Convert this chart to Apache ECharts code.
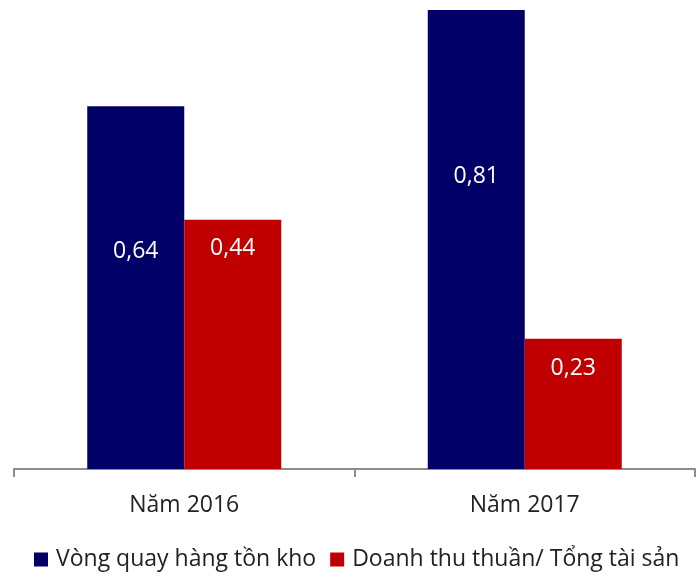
<!DOCTYPE html>
<html>
<head>
<meta charset="utf-8">
<script src="https://cdn.jsdelivr.net/npm/echarts@6/dist/echarts.min.js"></script>
<style>
  html, body { margin: 0; padding: 0; background: #fff; }
  #chart { width: 697px; height: 576px; }
</style>
</head>
<body>
<div id="chart"></div>
<script>
// Years on the category axis
const categories = ['Năm 2016', 'Năm 2017'];
// Series names
const seriesNames = ['Vòng quay hàng tồn kho', 'Doanh thu thuần/ Tổng tài sản'];
// Inventory turnover
const inventoryTurnover = [0.64, 0.81];
// Net revenue / total assets
const revenueToAssets = [0.44, 0.23];
// Distance of each value label below its bar top (px)
const inventoryLabelDist = [134, 155];
const revenueLabelDist = [17, 18];

const FONT = 'Open Sans';
const chart = echarts.init(document.getElementById('chart'));

function withLabels(values, dists) {
  return values.map((v, i) => ({
    value: v,
    label: { distance: dists[i] }
  }));
}

const labelStyle = {
  show: true,
  position: 'insideTop',
  color: '#ffffff',
  fontFamily: FONT,
  fontSize: 23,
  formatter: p => p.value.toFixed(2).replace('.', ',')
};

chart.setOption({
  animation: false,
  backgroundColor: '#ffffff',
  grid: { left: 14, right: 2, top: 10, bottom: 107 },
  legend: {
    left: 34,
    top: 548,
    padding: 0,
    itemWidth: 14,
    itemHeight: 14,
    itemGap: 14,
    icon: 'rect',
    textStyle: { fontFamily: FONT, fontSize: 23, color: '#222', padding: [0, 0, 0, 3] },
    data: seriesNames
  },
  xAxis: {
    type: 'category',
    data: categories,
    axisLine: { lineStyle: { color: '#8c8c8c', width: 2 } },
    axisTick: { show: true, length: 8, lineStyle: { color: '#8c8c8c', width: 2 } },
    axisLabel: { color: '#222', fontFamily: FONT, fontSize: 23, margin: 25 }
  },
  yAxis: {
    type: 'value',
    min: 0,
    max: 0.81,
    show: false,
    splitLine: { show: false }
  },
  series: [
    {
      name: seriesNames[0],
      type: 'bar',
      barWidth: 97,
      barGap: '0%',
      itemStyle: { color: '#000066' },
      label: labelStyle,
      data: withLabels(inventoryTurnover, inventoryLabelDist)
    },
    {
      name: seriesNames[1],
      type: 'bar',
      barWidth: 97,
      barGap: '0%',
      itemStyle: { color: '#c00000' },
      label: labelStyle,
      data: withLabels(revenueToAssets, revenueLabelDist)
    }
  ]
});
</script>
</body>
</html>
